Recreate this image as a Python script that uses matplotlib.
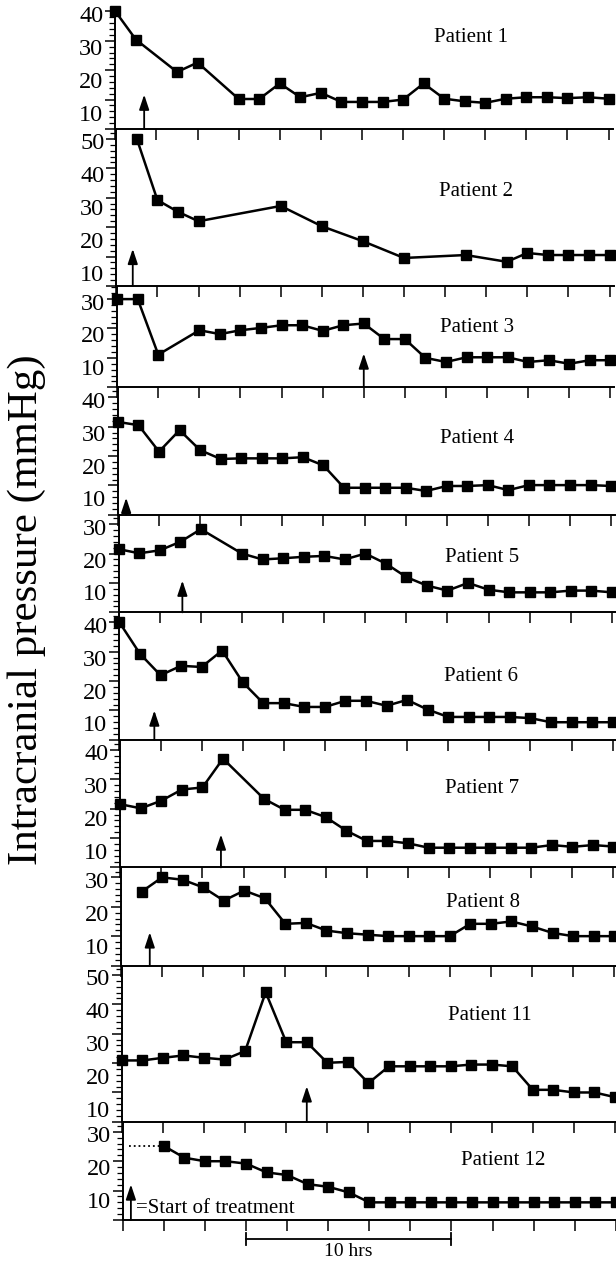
import matplotlib
matplotlib.use("Agg")
import matplotlib.pyplot as plt
from matplotlib import transforms
from matplotlib.ticker import MultipleLocator

plt.rcParams['font.family'] = ['Liberation Serif', 'DejaVu Serif']

# ---------------- data ----------------
patients = ["Patient 1", "Patient 2", "Patient 3", "Patient 4", "Patient 5",
            "Patient 6", "Patient 7", "Patient 8", "Patient 11", "Patient 12"]

hours_p1 = [0, 1, 3, 4, 6, 7, 8, 9, 10, 11, 12, 13, 14, 15, 16, 17, 18, 19, 20, 21, 22, 23, 24]
icp_p1 = [40, 30.4, 19.4, 22.6, 10.2, 10.2, 15.5, 10.8, 12.3, 9.2, 9.2, 9.2, 10.0, 15.5,
          10.3, 9.4, 8.9, 10.3, 10.8, 10.8, 10.5, 10.8, 10.3]

hours_p2 = [1, 2, 3, 4, 8, 10, 12, 14, 17, 19, 20, 21, 22, 23, 24]
icp_p2 = [50, 29.2, 25.2, 22.0, 27.2, 20.3, 15.2, 9.5, 10.5, 8.2, 11.2, 10.5, 10.5, 10.5, 10.5]

hours_p3 = [0, 1, 2, 4, 5, 6, 7, 8, 9, 10, 11, 12, 13, 14, 15, 16, 17, 18, 19, 20, 21, 22, 23, 24]
icp_p3 = [30, 30, 11.1, 19.4, 18.1, 19.4, 20.2, 21.1, 21.1, 19.2, 21.1, 21.7, 16.4, 16.4,
          10.0, 8.6, 10.2, 10.2, 10.2, 8.6, 9.2, 8.0, 9.2, 9.2]

hours_p4 = list(range(0, 25))
icp_p4 = [31.6, 30.5, 21.5, 28.8, 22.0, 19.0, 19.2, 19.2, 19.2, 19.6, 16.8, 9.2, 9.2, 9.2,
          9.2, 8.1, 9.8, 9.8, 10.1, 8.4, 10.1, 10.1, 10.1, 10.1, 9.8]

hours_p5 = [0, 1, 2, 3, 4, 6, 7, 8, 9, 10, 11, 12, 13, 14, 15, 16, 17, 18, 19, 20, 21, 22, 23, 24]
icp_p5 = [21.5, 20.1, 21.1, 24.0, 28.3, 20.0, 18.0, 18.4, 18.9, 19.2, 18.0, 20.0, 16.6,
          12.0, 9.1, 7.4, 10.0, 7.7, 6.8, 6.8, 6.8, 7.4, 7.4, 6.8]

hours_p6 = list(range(0, 25))
icp_p6 = [40, 29.3, 22.0, 25.2, 24.8, 30.4, 19.6, 12.5, 12.5, 11.2, 11.2, 13.3, 13.3, 11.6,
          13.6, 10.3, 7.8, 7.8, 7.8, 7.8, 7.4, 6.0, 6.0, 6.0, 6.0]

hours_p7 = [0, 1, 2, 3, 4, 5, 7, 8, 9, 10, 11, 12, 13, 14, 15, 16, 17, 18, 19, 20, 21, 22, 23, 24]
icp_p7 = [21.5, 20.1, 22.7, 26.5, 27.2, 37.0, 23.3, 19.6, 19.6, 17.1, 12.5, 9.0, 9.0, 8.2,
          6.7, 6.7, 6.7, 6.7, 6.7, 6.7, 7.6, 7.0, 7.6, 7.1]

hours_p8 = list(range(1, 25))
icp_p8 = [25.1, 30.0, 29.2, 26.6, 22.1, 25.5, 22.9, 14.2, 14.5, 11.9, 11.0, 10.5, 10.0, 10.0,
          10.0, 10.0, 14.2, 14.2, 15.0, 13.3, 11.1, 10.0, 10.0, 10.0]

hours_p11 = list(range(0, 25))
icp_p11 = [20.9, 20.9, 21.8, 22.6, 21.8, 21.2, 24.1, 44.1, 27.1, 27.1, 20.1, 20.4, 13.2,
           18.9, 18.9, 18.9, 18.9, 19.5, 19.5, 18.9, 10.9, 10.9, 10.0, 10.0, 8.4]

hours_p12 = list(range(2, 25))
icp_p12 = [25.2, 21.2, 20.0, 20.0, 19.2, 16.2, 15.3, 12.2, 11.3, 9.4, 6.0, 6.0, 6.0, 6.0,
           6.0, 6.0, 6.0, 6.0, 6.0, 6.0, 6.0, 6.0, 6.0]

all_hours = [hours_p1, hours_p2, hours_p3, hours_p4, hours_p5,
             hours_p6, hours_p7, hours_p8, hours_p11, hours_p12]
all_icp = [icp_p1, icp_p2, icp_p3, icp_p4, icp_p5,
           icp_p6, icp_p7, icp_p8, icp_p11, icp_p12]

# start of treatment (hour) and arrow tip (mmHg)
arrow_hours = [1.4, 0.8, 12.0, 0.4, 3.1, 1.7, 4.9, 1.4, 9.0, 0.4]
arrow_tips = [11.7, 12.6, 11.5, 5.8, 10.8, 10.0, 11.2, 11.3, 12.1, 12.1]

# highest labelled y tick per panel
label_tops = [40, 50, 30, 40, 30, 40, 40, 30, 50, 30]

# dotted pre-recording level for patient 12
p12_pre_hours = [0.3, 2]
p12_pre_icp = [25.2, 25.2]

scale_bar_hours = [6, 16]
scale_bar_label = "10 hrs"
legend_text = "=Start of treatment"
ylabel_text = "Intracranial pressure (mmHg)"

# ---------------- layout ----------------
W, H = 616, 1262
fig = plt.figure(figsize=(W / 100, H / 100), dpi=100)

y_limits = [41, 53.4, 34.5, 43.4, 33.2, 43.4, 43.4, 33.4, 53.2, 33.4]
name_pos = [(17.3, 31.2), (17.5, 32.0), (17.5, 20.3), (17.5, 26.0), (17.7, 18.6),
            (17.6, 21.5), (17.6, 26.9), (17.6, 21.3), (17.9, 36.3), (18.5, 20.4)]
top_px, bot_px = 8.5, 1220
left_top, left_bot = 115, 123      # slight skew of the scanned original
hour_px = 20.55
ppu = (bot_px - top_px) / sum(y_limits)

FS = 15
cur = top_px
axes = []
for i, lim in enumerate(y_limits):
    h = lim * ppu
    frac = (cur + h / 2 - top_px) / (bot_px - top_px)
    left_px = left_top + (left_bot - left_top) * frac
    width_px = 24.2 * hour_px
    ax = fig.add_axes([left_px / W, 1 - (cur + h) / H, width_px / W, h / H])
    cur += h
    axes.append(ax)
    ax.patch.set_alpha(0)
    ax.set_xlim(0, 24.2)
    ax.set_ylim(0, lim)
    for s in ['top', 'right']:
        ax.spines[s].set_visible(False)
    for s in ['left', 'bottom']:
        ax.spines[s].set_linewidth(1.4)
    ax.xaxis.set_major_locator(MultipleLocator(2))
    ax.yaxis.set_major_locator(MultipleLocator(10))
    ax.yaxis.set_minor_locator(MultipleLocator(2))
    ax.tick_params(axis='x', which='major', direction='out', length=8, width=1.1,
                   labelbottom=False)
    ax.tick_params(axis='y', which='major', direction='out', length=7, width=1.1,
                   labelleft=False)
    ax.tick_params(axis='y', which='minor', direction='out', length=4, width=0.9)

    # y tick labels (sitting slightly below their ticks, as in the original)
    trans = transforms.blended_transform_factory(ax.transAxes, ax.transData)
    vals = list(range(label_tops[i], 0, -10))
    for k, v in enumerate(vals):
        off = transforms.ScaledTranslation(-12 / 100, -(5 + 3.5 * k) / 100, fig.dpi_scale_trans)
        ax.text(0, v, str(v), transform=trans + off, ha='right', va='center', fontsize=17.5)

    ax.plot(all_hours[i], all_icp[i], '-s', color='black', lw=1.8, ms=6.5,
            clip_on=False, zorder=3)

    ax.annotate('', xy=(arrow_hours[i], arrow_tips[i]), xytext=(arrow_hours[i], 0),
                arrowprops=dict(arrowstyle='-|>,head_length=0.9,head_width=0.3',
                                lw=1.3, color='black', shrinkA=0, shrinkB=0),
                annotation_clip=False)

    ax.text(name_pos[i][0], name_pos[i][1], patients[i], ha='center', va='center',
            fontsize=FS)

# patient 12 extras
ax12 = axes[-1]
ax12.plot(p12_pre_hours, p12_pre_icp, ':', color='black', lw=1.3)
ax12.text(0.65, 3.8, legend_text, ha='left', va='center', fontsize=FS)

# scale bar
bt = transforms.blended_transform_factory(ax12.transData, fig.transFigure)
bar_y = 1 - 1239 / H
cap = 6 / H
ax12.plot(scale_bar_hours, [bar_y, bar_y], color='black', lw=1.3, transform=bt, clip_on=False)
for xh in scale_bar_hours:
    ax12.plot([xh, xh], [bar_y - cap, bar_y + cap], color='black', lw=1.3,
              transform=bt, clip_on=False)
ax12.text(sum(scale_bar_hours) / 2, 1 - 1251 / H, scale_bar_label, transform=bt,
          ha='center', va='center', fontsize=FS - 1)

fig.text(27 / W, 1 - 610 / H, ylabel_text, rotation=90, ha='center', va='center',
         fontsize=31)

fig.savefig("out.png", dpi=100, facecolor='white')
